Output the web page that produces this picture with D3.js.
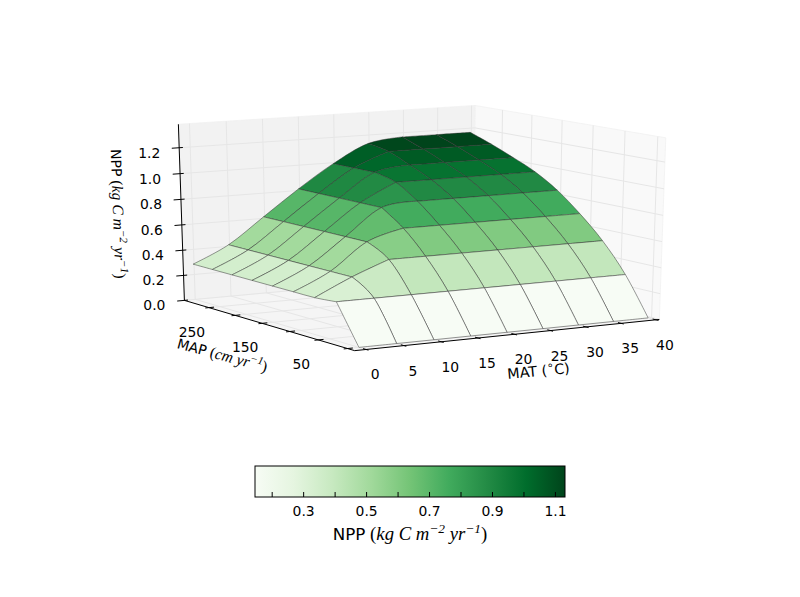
<!DOCTYPE html>
<html>
<head>
<meta charset="utf-8">
<script src="https://d3js.org/d3.v7.min.js"></script>
<style>
  html, body { margin: 0; padding: 0; background: #fff; }
  text { font-family: "DejaVu Sans", sans-serif; fill: #000; }
  .math { font-family: "Liberation Serif", serif; font-style: italic; }
  .paren { font-family: "Liberation Serif", serif; }
</style>
</head>
<body>
<div id="chart"></div>
<script>
// data
var matValues = [0, 5, 10, 15, 20, 25, 30, 35, 40];
var mapValues = [0, 37.5, 75, 112.5, 150, 187.5, 225, 262.5, 300];

// NPP per MAP row, one value per MAT column
var nppMap0 = [0, 0, 0, 0, 0, 0, 0, 0, 0];
var nppMap1 = [0.294, 0.294, 0.294, 0.294, 0.294, 0.294, 0.294, 0.294, 0.294];
var nppMap2 = [0.28, 0.41, 0.517, 0.517, 0.517, 0.517, 0.517, 0.517, 0.517];
var nppMap3 = [0.28, 0.41, 0.61, 0.69, 0.69, 0.69, 0.69, 0.69, 0.69];
var nppMap4 = [0.28, 0.41, 0.61, 0.81, 0.837, 0.837, 0.837, 0.837, 0.837];
var nppMap5 = [0.28, 0.41, 0.61, 0.81, 0.947, 0.947, 0.947, 0.947, 0.947];
var nppMap6 = [0.28, 0.41, 0.61, 0.81, 0.99, 1.027, 1.027, 1.027, 1.027];
var nppMap7 = [0.28, 0.41, 0.61, 0.81, 0.99, 1.10, 1.10, 1.10, 1.10];
var nppMap8 = [0.28, 0.41, 0.61, 0.81, 0.99, 1.13, 1.164, 1.164, 1.164];
var nppRows = [nppMap0, nppMap1, nppMap2, nppMap3, nppMap4, nppMap5, nppMap6, nppMap7, nppMap8];

var matTicks = [0, 5, 10, 15, 20, 25, 30, 35, 40];
var mapTicks = [0, 50, 100, 150, 200, 250];
var mapLabels = [50, 150, 250];
var nppTicks = [0, 0.2, 0.4, 0.6, 0.8, 1.0, 1.2];
var barTicks = [0.2, 0.3, 0.4, 0.5, 0.6, 0.7, 0.8, 0.9, 1.0, 1.1];
var barLabels = [0.3, 0.5, 0.7, 0.9, 1.1];

var width = 800, height = 597;

var svg = d3.select("#chart").append("svg")
    .attr("width", width)
    .attr("height", height)
    .style("display", "block");

// data -> unit cube
var xScale = d3.scaleLinear().domain([-1.5, 40.5]).range([0, 1]);
var yScale = d3.scaleLinear().domain([-12, 298]).range([0, 1]);
var zScale = d3.scaleLinear().domain([0, 1.38]).range([0, 1]);

// camera, same maths as a matplotlib 3d axes
var azim = 239 * Math.PI / 180, elev = 15 * Math.PI / 180, dist = 10;
var n = [Math.cos(azim) * Math.cos(elev), Math.sin(azim) * Math.cos(elev), Math.sin(elev)];
var u = [-Math.sin(azim), Math.cos(azim), 0];
var v = [n[1] * u[2] - n[2] * u[1], n[2] * u[0] - n[0] * u[2], n[0] * u[1] - n[1] * u[0]];
var screenX = 3505, screenY = 1851, originX = 418, originY = 221.5;

function dot(a, p) { return a[0] * p[0] + a[1] * p[1] + a[2] * p[2]; }

function cube(mat, map, npp) {
  return [xScale(mat) - 0.5, yScale(map) - 0.5, zScale(npp) - 0.5];
}
function project(mat, map, npp) {
  var p = cube(mat, map, npp);
  var w = dist - dot(n, p);
  return [originX + screenX * dot(u, p) / w, originY - screenY * dot(v, p) / w];
}
function depth(mat, map, npp) { return dot(n, cube(mat, map, npp)); }

var line3d = d3.line();
function pathOf(points) {
  return line3d(points.map(function(d) { return project(d[0], d[1], d[2]); }));
}

var xLo = xScale.domain()[0], xHi = xScale.domain()[1];
var yLo = yScale.domain()[0], yHi = yScale.domain()[1];
var zLo = zScale.domain()[0], zHi = zScale.domain()[1];

// panes
var panes = [
  {fill: "#f9f9f9", pts: [[xHi, yLo, zLo], [xHi, yHi, zLo], [xHi, yHi, zHi], [xHi, yLo, zHi]]},
  {fill: "#f2f2f2", pts: [[xLo, yHi, zLo], [xHi, yHi, zLo], [xHi, yHi, zHi], [xLo, yHi, zHi]]},
  {fill: "#f5f5f5", pts: [[xLo, yLo, zLo], [xHi, yLo, zLo], [xHi, yHi, zLo], [xLo, yHi, zLo]]}
];
svg.append("g").selectAll("path")
  .data(panes)
 .enter()
  .append("path")
  .attr("d", function(d) { return pathOf(d.pts) + "Z"; })
  .style("fill", function(d) { return d.fill; })
  .style("stroke", "#f0f0f0")
  .style("stroke-width", 0.75);

// grid on the panes
var gridLines = [];
matTicks.forEach(function(t) {
  gridLines.push([[t, yLo, zLo], [t, yHi, zLo], [t, yHi, zHi]]);
});
mapTicks.forEach(function(t) {
  gridLines.push([[xLo, t, zLo], [xHi, t, zLo], [xHi, t, zHi]]);
});
nppTicks.forEach(function(t) {
  gridLines.push([[xLo, yHi, t], [xHi, yHi, t], [xHi, yLo, t]]);
});
svg.append("g").selectAll("path")
  .data(gridLines)
 .enter()
  .append("path")
  .attr("d", pathOf)
  .style("fill", "none")
  .style("stroke", "#e6e6e6")
  .style("stroke-width", 1);

// axis lines
var axisLines = [
  [[xLo, yLo, zLo], [xHi, yLo, zLo]],
  [[xLo, yLo, zLo], [xLo, yHi, zLo]],
  [[xLo, yHi, zLo], [xLo, yHi, zHi]]
];
svg.append("g").selectAll("path")
  .data(axisLines)
 .enter()
  .append("path")
  .attr("d", pathOf)
  .style("fill", "none")
  .style("stroke", "#000")
  .style("stroke-width", 1);

// tick marks, 3d segments running along the neighbouring axis
var tickMarks = [];
matTicks.forEach(function(t) {
  tickMarks.push([[t, yLo - 4, zLo], [t, yLo + 5, zLo]]);
});
mapTicks.forEach(function(t) {
  tickMarks.push([[xLo - 0.5, t, zLo], [xLo + 0.7, t, zLo]]);
});
nppTicks.forEach(function(t) {
  tickMarks.push([[xLo - 1, yHi, t], [xLo + 0.5, yHi, t]]);
});
svg.append("g").selectAll("path")
  .data(tickMarks)
 .enter()
  .append("path")
  .attr("d", pathOf)
  .style("fill", "none")
  .style("stroke", "#000")
  .style("stroke-width", 1);

// tick labels
function tickLabels(values, at, dx, dy, fmt) {
  svg.append("g").selectAll("text")
    .data(values)
   .enter()
    .append("text")
    .attr("x", function(d) { return at(d)[0] + dx; })
    .attr("y", function(d) { return at(d)[1] + dy; })
    .attr("text-anchor", "middle")
    .attr("dominant-baseline", "central")
    .style("font-size", "13.9px")
    .text(fmt);
}
tickLabels(matTicks, function(d) { return project(d, yLo, zLo); }, 9, 25, d3.format("d"));
tickLabels(mapLabels, function(d) { return project(xLo, d, zLo); }, -17, 24, d3.format("d"));
tickLabels(nppTicks, function(d) { return project(xLo, yHi, d); }, -30, 5, d3.format(".1f"));

// surface cells, far ones first
var colorScale = d3.scaleLinear().range(d3.schemeGreens[9]);

// an edge bends smoothly unless the surface flattens out at that vertex
function isFlat(a, b) { return Math.abs(a - b) < 0.02; }
function isKink(a, b, c) {
  return isFlat(a, b) !== isFlat(b, c);
}
function cp(i, j, di, dj) {
  var p = project(matValues[i], mapValues[j], nppRows[j][i]);
  var hasPrev = i - di >= 0 && j - dj >= 0;
  var hasNext = i + di < matValues.length && j + dj < mapValues.length;
  if (!hasPrev || !hasNext) { return {p: p, t: null}; }
  var a = nppRows[j - dj][i - di], b = nppRows[j][i], c = nppRows[j + dj][i + di];
  if (isKink(a, b, c)) { return {p: p, t: null}; }
  var p0 = project(matValues[i - di], mapValues[j - dj], a);
  var p1 = project(matValues[i + di], mapValues[j + dj], c);
  return {p: p, t: [(p1[0] - p0[0]) / 6, (p1[1] - p0[1]) / 6]};
}
function edge(i, j, di, dj) {
  // from (i,j) to (i+di,j+dj), both di,dj may be negative on the way back
  var fwd = di + dj > 0;
  var si = fwd ? i : i + di, sj = fwd ? j : j + dj;
  var ai = Math.abs(di), aj = Math.abs(dj);
  var s = cp(si, sj, ai, aj), e = cp(si + ai, sj + aj, ai, aj);
  var c1 = s.t ? [s.p[0] + s.t[0], s.p[1] + s.t[1]] : s.p;
  var c2 = e.t ? [e.p[0] - e.t[0], e.p[1] - e.t[1]] : e.p;
  if (fwd) { return "C" + c1 + " " + c2 + " " + e.p; }
  return "C" + c2 + " " + c1 + " " + s.p;
}

var cells = [];
mapValues.slice(1).forEach(function(m, j) {
  matValues.slice(1).forEach(function(t, i) {
    var mean = d3.mean([nppRows[j][i], nppRows[j][i + 1], nppRows[j + 1][i + 1], nppRows[j + 1][i]]);
    var mx = (matValues[i] + matValues[i + 1]) / 2, my = (mapValues[j] + mapValues[j + 1]) / 2;
    cells.push({i: i, j: j, value: mean, order: depth(mx, my, mean)});
  });
});
var cellExtent = d3.extent(cells, function(d) { return d.value; });
colorScale.domain(d3.range(9).map(function(k) {
  return cellExtent[0] + (cellExtent[1] - cellExtent[0]) * k / 8;
}));
cells.sort(function(a, b) { return d3.ascending(a.order, b.order); });

svg.append("g").selectAll("path")
  .data(cells)
 .enter()
  .append("path")
  .attr("d", function(d) {
    var i = d.i, j = d.j;
    var start = project(matValues[i], mapValues[j], nppRows[j][i]);
    return "M" + start +
      edge(i, j, 1, 0) +
      edge(i + 1, j, 0, 1) +
      edge(i + 1, j + 1, -1, 0) +
      edge(i, j + 1, 0, -1) + "Z";
  })
  .style("fill", function(d) { return colorScale(d.value); })
  .style("stroke", "#333")
  .style("stroke-width", 0.5)
  .style("stroke-linejoin", "round");

// rotated axis titles
function axisTitle(x, y, angle, size, plain, parts) {
  var t = svg.append("text")
    .attr("transform", "translate(" + x + "," + y + ") rotate(" + angle + ")")
    .attr("text-anchor", "middle")
    .style("font-size", size + "px");
  t.append("tspan").text(plain);
  parts.forEach(function(p) {
    var s = t.append("tspan").text(p.text);
    if (p.cls) { s.attr("class", p.cls).style("font-size", (size * 1.12) + "px"); }
    if (p.sup) {
      s.attr("dy", -size * 0.42).style("font-size", (size * 0.8) + "px");
    }
    if (p.down) { s.attr("dy", size * 0.42); }
  });
  return t;
}
var unitParts = [
  {text: "\u00a0(", cls: "paren"},
  {text: "kg\u00a0C\u00a0m", cls: "math"},
  {text: "\u22122", cls: "math", sup: true},
  {text: "\u00a0yr", cls: "math", down: true},
  {text: "\u22121", cls: "math", sup: true},
  {text: ")", cls: "paren", down: true}
];
var mapParts = [
  {text: "\u00a0(", cls: "paren"},
  {text: "cm\u00a0yr", cls: "math"},
  {text: "\u22121", cls: "math", sup: true},
  {text: ")", cls: "paren", down: true}
];
var matParts = [
  {text: "\u2218", sup: true},
  {text: "C)", down: true}
];
axisTitle(113, 214, 88, 14, "NPP", unitParts);
axisTitle(221, 360, 15, 14, "MAP", mapParts);
axisTitle(539, 376, -5.5, 14.3, "MAT (", matParts);

// colour bar
var barX = d3.scaleLinear().domain(cellExtent).range([255, 565]);
var barTop = 466, barBottom = 497;
var defs = svg.append("defs");
var grad = defs.append("linearGradient").attr("id", "barGrad");
d3.schemeGreens[9].forEach(function(c, k) {
  grad.append("stop").attr("offset", (k / 8 * 100) + "%").attr("stop-color", c);
});
svg.append("rect")
  .attr("x", barX.range()[0])
  .attr("y", barTop)
  .attr("width", barX.range()[1] - barX.range()[0])
  .attr("height", barBottom - barTop)
  .style("fill", "url(#barGrad)")
  .style("stroke", "#000")
  .style("stroke-width", 1);

var barAxis = d3.axisBottom(barX)
  .tickValues(barTicks)
  .tickSizeInner(-5)
  .tickSizeOuter(0)
  .tickPadding(9)
  .tickFormat(function(d) { return barLabels.indexOf(d) >= 0 ? d3.format(".1f")(d) : ""; });
var barG = svg.append("g")
  .attr("transform", "translate(0," + barBottom + ")")
  .call(barAxis);
barG.select(".domain").remove();
barG.selectAll("text")
  .attr("dy", "0.71em")
  .style("font-family", "'DejaVu Sans', sans-serif")
  .style("font-size", "13.9px");
barG.selectAll("line").style("stroke", "#000");

axisTitle(410, 540, 0, 16.7, "NPP", unitParts);
</script>
</body>
</html>
